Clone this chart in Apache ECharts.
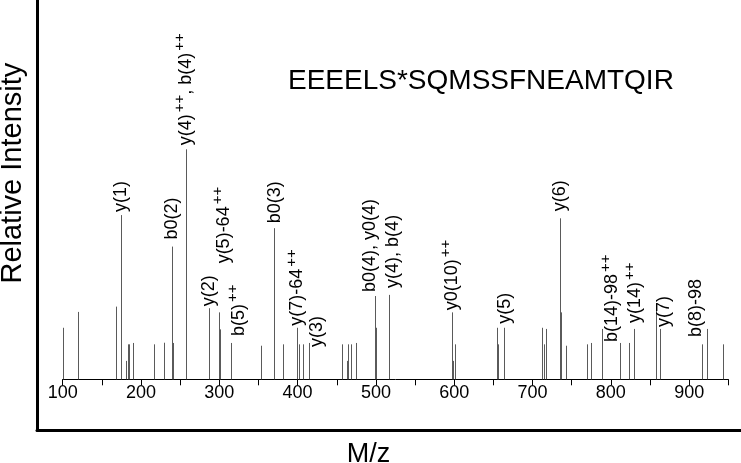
<!DOCTYPE html>
<html>
<head>
<meta charset="utf-8">
<script src="https://cdn.jsdelivr.net/npm/echarts@6/dist/echarts.min.js"></script>
<style>
  html, body { margin: 0; padding: 0; background: #fff; }
  #main { width: 741px; height: 463px; }
</style>
</head>
<body>
<div id="main"></div>
<script>
// peaks: m/z and relative intensity (tallest = 100)
var mz = [100.8, 119.5, 168.0, 174.5, 181.3, 183.0, 184.7, 189.4, 216.2, 229.4,
          239.6, 241.3, 257.5, 286.5, 299.7, 301.4, 314.6, 352.9, 369.9, 381.2,
          399.7, 401.5, 406.6, 414.6, 456.8, 463.5, 464.8, 467.9, 474.6, 498.5,
          499.8, 516.8, 596.8, 598.0, 601.4, 654.6, 656.3, 663.2, 711.8, 714.7,
          716.9, 735.2, 736.5, 743.3, 769.7, 774.8, 788.5, 811.5, 823.4, 830.2,
          858.0, 863.2, 916.8, 923.3, 942.9];
var intensity = [22.4, 29.3, 31.6, 71.4, 8.0, 15.2, 15.2, 15.8, 15.2, 15.9,
                 57.7, 15.8, 100, 30.9, 29.1, 21.7, 15.8, 14.6, 65.7, 15.2,
                 22.4, 15.2, 15.2, 15.8, 15.2, 8.0, 15.2, 15.2, 15.8, 36.2,
                 22.4, 36.7, 29.1, 8.0, 15.2, 22.4, 15.2, 22.4, 22.4, 15.2,
                 21.9, 70.0, 29.1, 14.6, 15.2, 15.8, 21.9, 15.8, 15.8, 21.9,
                 29.7, 21.9, 15.2, 21.9, 15.2];

// annotated ions
var ionNames = ['y(1)', 'b0(2)', 'y(4)++, b(4)++', 'y(2)', 'y(5)-64++', 'b(5)++',
                'b0(3)', 'y(7)-64++', 'y(3)', 'b0(4), y0(4)', 'y(4), b(4)', 'y0(10)++',
                'y(5)', 'y(6)', 'b(14)-98++', 'y(14)++', 'y(7)', 'b(8)-98'];
var ionMz = [174.5, 239.6, 257.5, 286.5, 299.7, 314.6,
             369.9, 399.7, 414.6, 498.5, 516.8, 596.8,
             663.2, 735.2, 788.5, 830.2, 863.2, 923.3];

var peptide = 'EEEELS*SQMSSFNEAMTQIR';

// small label nudges [dx, dy] in px, same order as ionNames
var labelNudge = [[0, 0], [0, -4], [0, -1], [0, 1], [5, -46], [8, -4],
                  [1, -2], [0, 1], [8, 7], [-5, -1], [4, -4], [0, 1],
                  [1, -1], [0, -4], [10, 16], [1, -3], [4, 1], [-11, 11]];

var font = 'Liberation Sans';
var mainSize = 18, supSize = 15;

var measureCtx = document.createElement('canvas').getContext('2d');
function textWidth(str, size) {
    measureCtx.font = size + 'px "' + font + '"';
    return measureCtx.measureText(str).width;
}

var peakData = mz.map(function (m, i) { return [m, intensity[i]]; });
var labelData = ionMz.map(function (m, i) { return [m, intensity[mz.indexOf(m)], i]; });

// rotated ion label, "++" drawn as superscript
function ionLabel(name) {
    var parts = name.split('++');
    var children = [];
    var cx = 0;
    parts.forEach(function (part, k) {
        if (part) {
            children.push({
                type: 'text', x: cx, y: 0,
                style: { text: part, font: mainSize + 'px "' + font + '"', fill: '#000', align: 'left', verticalAlign: 'middle' }
            });
            cx += textWidth(part, mainSize);
        }
        if (k < parts.length - 1) {
            cx += 2;
            children.push({
                type: 'text', x: cx, y: -6,
                style: { text: '++', font: supSize + 'px "' + font + '"', fill: '#000', align: 'left', verticalAlign: 'middle' }
            });
            cx += textWidth('++', supSize);
        }
    });
    return children;
}

var chart = echarts.init(document.getElementById('main'));

var option = {
    animation: false,
    title: {
        text: peptide,
        left: 288,
        top: 67,
        padding: 0,
        textStyle: { fontFamily: font, fontSize: 28, fontWeight: 'normal', color: '#000' }
    },
    grid: [
        { left: 62.7, right: 12.7, top: 34.3, bottom: 83.7, outerBoundsMode: 'none' },
        { left: 37, right: -5, top: -5, bottom: 32.7, outerBoundsMode: 'none' }
    ],
    xAxis: [
        {
            type: 'value', gridIndex: 0, min: 100, max: 950, interval: 50,
            axisLine: { lineStyle: { color: '#000', width: 1 } },
            axisTick: { length: 6, lineStyle: { color: '#000' } },
            axisLabel: {
                margin: 5, color: '#000', fontFamily: font, fontSize: 18,
                formatter: function (v) { return (v % 100 === 0 && v < 950) ? String(v) : ''; }
            },
            splitLine: { show: false }
        },
        {
            type: 'value', gridIndex: 1, min: 0, max: 1,
            axisLine: { onZero: false, lineStyle: { color: '#000', width: 3 } },
            axisTick: { show: false }, axisLabel: { show: false }, splitLine: { show: false },
            name: 'M/z', nameLocation: 'middle', nameGap: 11,
            nameTextStyle: { fontFamily: font, fontSize: 27, color: '#000', padding: [0, 46, 0, 0] }
        }
    ],
    yAxis: [
        { type: 'value', gridIndex: 0, min: 0, max: 150, show: false },
        {
            type: 'value', gridIndex: 1, min: 0, max: 1,
            axisLine: { onZero: false, lineStyle: { color: '#000', width: 3 } },
            axisTick: { show: false }, axisLabel: { show: false }, splitLine: { show: false },
            name: 'Relative Intensity', nameLocation: 'middle', nameGap: 10, nameRotate: 90,
            nameTextStyle: { fontFamily: font, fontSize: 29, color: '#000', padding: [0, 0, 0, 79] }
        }
    ],
    series: [
        {
            type: 'custom',
            xAxisIndex: 0, yAxisIndex: 0,
            data: peakData,
            renderItem: function (params, api) {
                var base = api.coord([api.value(0), 0]);
                var top = api.coord([api.value(0), api.value(1)]);
                var x = Math.round(base[0]) + 0.5;
                return {
                    type: 'line',
                    shape: { x1: x, y1: base[1], x2: x, y2: top[1] },
                    style: { stroke: '#5a5a5a', lineWidth: 1 }
                };
            }
        },
        {
            type: 'custom',
            xAxisIndex: 0, yAxisIndex: 0,
            data: labelData,
            renderItem: function (params, api) {
                var i = api.value(2);
                var p = api.coord([api.value(0), api.value(1)]);
                var n = labelNudge[i];
                return {
                    type: 'group',
                    x: p[0] + n[0],
                    y: p[1] - 3 + n[1],
                    rotation: Math.PI / 2,
                    children: ionLabel(ionNames[i])
                };
            }
        }
    ]
};

chart.setOption(option);
</script>
</body>
</html>
